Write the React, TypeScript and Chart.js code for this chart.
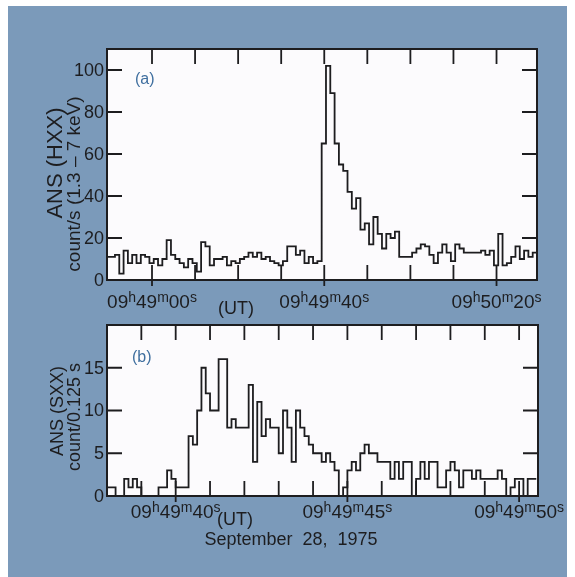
import React, { useEffect, useRef } from "react";
import { Chart, registerables } from "chart.js";

Chart.register(...registerables);

// ---------- DATA ----------
// Panel (a): ANS HXX, 1 s bins, time in seconds after 09h49m00s
const hxxFirstBinStart = -10.6;
const hxxBinWidth = 1;
const hxxCounts = [
  11, 11, 12, 3, 14, 8, 12, 8, 12, 11,
  8, 10, 7, 10, 19, 12, 10, 8, 6, 10,
  8, 4, 18, 16, 7, 10, 10, 11, 7, 9,
  8, 10, 11, 13, 11, 13, 10, 11, 9, 8,
  7, 9, 16, 16, 12, 14, 8, 11, 8, 9,
  65, 102, 89, 65, 55, 52, 42, 34, 39, 24,
  27, 17, 30, 22, 15, 22, 20, 23, 11, 11,
  11, 13, 15, 17, 16, 12, 8, 13, 17, 13,
  9, 17, 15, 13, 13, 13, 13, 14, 12, 14,
  7, 22, 7, 8, 11, 16, 10, 14, 11, 13,
];
const hxxXRange = [-10.45, 89.4];
const hxxYMax = 110;
const hxxXTicks = [0, 10, 20, 30, 40, 50, 60, 70, 80];
const hxxXTickLabels = ["09h49m00s", "", "", "", "09h49m40s", "", "", "", "09h50m20s"];
const hxxYTicks = [0, 20, 40, 60, 80, 100];

// Panel (b): ANS SXX, 0.125 s bins, time in seconds after 09h49m00s
const sxxFirstBinStart = 38.0;
const sxxBinWidth = 0.125;
const sxxCounts = [
  1, 1, 0, 0, 2, 1, 2, 1, 0, 0,
  0, 0, 1, 1, 3, 2, 1, 1, 1, 7,
  6, 10, 15, 12, 10, 10, 16, 16, 8, 9,
  8, 8, 8, 13, 4, 11, 7, 9, 8, 8,
  5, 10, 8, 4, 10, 8, 7, 6, 5, 5,
  4, 5, 4, 3, 0, 1, 3, 4, 3, 5,
  6, 5, 5, 4, 4, 4, 2, 4, 2, 4,
  4, 0, 2, 4, 2, 4, 4, 1, 1, 3,
  4, 3, 1, 3, 3, 2, 3, 2, 2, 2,
  2, 3, 2, 0, 1, 2, 2, 0, 2, 2,
];
const sxxXRange = [38.0, 50.55];
const sxxYMax = 20;
const sxxXTicks = [39, 40, 41, 42, 43, 44, 45, 46, 47, 48, 49, 50];
const sxxXTickLabels = ["", "09h49m40s", "", "", "", "", "09h49m45s", "", "", "", "", "09h49m50s"];
const sxxYTicks = [0, 5, 10, 15];

// ---------- STYLE ----------
const FONT = '"Liberation Sans", Arial, Helvetica, sans-serif';
const INK = "#1d1d1f";
const PANEL_BLUE = "#7b9aba";
const LABEL_BLUE = "#3f6f9f";
const PLOT_FILL = "#fcfbfd";

function drawSupText(ctx: CanvasRenderingContext2D, text: string, cx: number, baseline: number, size: number, supSize: number, rise: number) {
  const parts = text.split("").map((ch) => ({ ch, sup: /[a-z]/.test(ch), w: 0 }));
  let total = 0;
  for (const p of parts) {
    ctx.font = `${p.sup ? supSize : size}px ${FONT}`;
    p.w = ctx.measureText(p.ch).width;
    total += p.w;
  }
  let x = cx - total / 2;
  ctx.textAlign = "left";
  ctx.textBaseline = "alphabetic";
  for (const p of parts) {
    ctx.font = `${p.sup ? supSize : size}px ${FONT}`;
    ctx.fillText(p.ch, x, p.sup ? baseline - rise : baseline);
    x += p.w;
  }
}

type PanelCfg = {
  xTicks: number[];
  xTickLabels: string[];
  yTicks: number[];
  labelBaseline: number;
  tag: string;
  tagX: number;
  tagBaseline: number;
  title1: string;
  title2: string;
  title1Center: number;
  title2Center: number;
  title1Size: number;
  title2Size: number;
  title1X: number;
  title2X: number;
  utX: number;
  utBaseline: number;
  extra?: { text: string; x: number; baseline: number };
};

function makePanelPlugin(cfg: PanelCfg) {
  return {
    id: "panelDecor",
    beforeDraw(chart: any) {
      const { ctx, chartArea: a } = chart;
      ctx.save();
      ctx.fillStyle = PLOT_FILL;
      ctx.fillRect(a.left, a.top, a.right - a.left, a.bottom - a.top);
      ctx.restore();
    },
    afterDraw(chart: any) {
      const { ctx, chartArea: a } = chart;
      const xs = chart.scales.x;
      const ys = chart.scales.y;
      const TL = 15;
      ctx.save();
      ctx.strokeStyle = INK;
      ctx.fillStyle = INK;
      ctx.lineWidth = 2;
      ctx.strokeRect(a.left, a.top, a.right - a.left, a.bottom - a.top);
      ctx.lineWidth = 1.8;
      cfg.xTicks.forEach((v, i) => {
        const px = xs.getPixelForValue(v);
        const labeled = cfg.xTickLabels[i] !== "";
        ctx.beginPath();
        ctx.moveTo(px, a.top);
        ctx.lineTo(px, a.top + TL);
        ctx.moveTo(px, a.bottom + (labeled ? 6 : 0));
        ctx.lineTo(px, a.bottom - TL);
        ctx.stroke();
        if (labeled) {
          ctx.fillStyle = INK;
          drawSupText(ctx, cfg.xTickLabels[i], px, cfg.labelBaseline, 19, 14, 6);
        }
      });
      cfg.yTicks.forEach((v) => {
        const py = ys.getPixelForValue(v);
        ctx.beginPath();
        ctx.moveTo(a.left, py);
        ctx.lineTo(a.left + TL, py);
        ctx.moveTo(a.right, py);
        ctx.lineTo(a.right - TL, py);
        ctx.stroke();
        ctx.font = `18px ${FONT}`;
        ctx.textAlign = "right";
        ctx.textBaseline = "middle";
        ctx.fillText(String(v), a.left - 3, py + 1);
      });
      ctx.font = `18px ${FONT}`;
      ctx.textAlign = "center";
      ctx.textBaseline = "alphabetic";
      ctx.fillText("(UT)", cfg.utX, cfg.utBaseline);
      if (cfg.extra) ctx.fillText(cfg.extra.text, cfg.extra.x, cfg.extra.baseline);
      ctx.fillStyle = LABEL_BLUE;
      ctx.font = `16px ${FONT}`;
      ctx.textAlign = "left";
      ctx.fillText(cfg.tag, cfg.tagX, cfg.tagBaseline);
      ctx.fillStyle = INK;
      ctx.textAlign = "center";
      ctx.save();
      ctx.font = `${cfg.title1Size}px ${FONT}`;
      ctx.translate(cfg.title1X, cfg.title1Center);
      ctx.rotate(-Math.PI / 2);
      ctx.fillText(cfg.title1, 0, 0);
      ctx.restore();
      ctx.save();
      ctx.font = `${cfg.title2Size}px ${FONT}`;
      ctx.translate(cfg.title2X, cfg.title2Center);
      ctx.rotate(-Math.PI / 2);
      ctx.fillText(cfg.title2, 0, 0);
      ctx.restore();
      ctx.restore();
    },
  };
}

function histPoints(start: number, width: number, counts: number[]) {
  const pts = counts.map((v, i) => ({ x: start + i * width, y: v }));
  pts.push({ x: start + counts.length * width, y: counts[counts.length - 1] });
  return pts;
}

function makeConfig(points: any[], xRange: number[], yMax: number, padding: any, plugin: any): any {
  return {
    type: "line",
    data: {
      datasets: [
        {
          data: points,
          stepped: true,
          borderColor: INK,
          borderWidth: 1.8,
          pointRadius: 0,
          fill: false,
          tension: 0,
        },
      ],
    },
    options: {
      responsive: false,
      animation: false,
      devicePixelRatio: 1,
      layout: { padding },
      plugins: { legend: { display: false }, tooltip: { enabled: false } },
      scales: {
        x: { type: "linear", min: xRange[0], max: xRange[1], display: false },
        y: { type: "linear", min: 0, max: yMax, display: false },
      },
    },
    plugins: [plugin],
  };
}

export default function App() {
  const refA = useRef<HTMLCanvasElement>(null);
  const refB = useRef<HTMLCanvasElement>(null);

  useEffect(() => {
    const pluginA = makePanelPlugin({
      xTicks: hxxXTicks,
      xTickLabels: hxxXTickLabels,
      yTicks: hxxYTicks,
      labelBaseline: 308,
      tag: "(a)",
      tagX: 135,
      tagBaseline: 84,
      title1: "ANS (HXX)",
      title2: "count/s (1.3 – 7 keV)",
      title1Center: 163,
      title2Center: 184,
      title1Size: 22,
      title2Size: 19,
      title1X: 62,
      title2X: 80,
      utX: 236,
      utBaseline: 314,
    });
    const pluginB = makePanelPlugin({
      xTicks: sxxXTicks,
      xTickLabels: sxxXTickLabels,
      yTicks: sxxYTicks,
      labelBaseline: 518,
      tag: "(b)",
      tagX: 132,
      tagBaseline: 362,
      title1: "ANS (SXX)",
      title2: "count/0.125 s",
      title1Center: 411,
      title2Center: 417,
      title1Size: 18,
      title2Size: 18,
      title1X: 63,
      title2X: 80,
      utX: 235,
      utBaseline: 525,
      extra: { text: "September  28,  1975", x: 291, baseline: 545 },
    });
    const chartA = new Chart(
      refA.current as HTMLCanvasElement,
      makeConfig(histPoints(hxxFirstBinStart, hxxBinWidth, hxxCounts), hxxXRange, hxxYMax, { left: 107, top: 49, right: 38, bottom: 297 }, pluginA)
    );
    const chartB = new Chart(
      refB.current as HTMLCanvasElement,
      makeConfig(histPoints(sxxFirstBinStart, sxxBinWidth, sxxCounts), sxxXRange, sxxYMax, { left: 107, top: 325, right: 37, bottom: 81 }, pluginB)
    );
    return () => {
      chartA.destroy();
      chartB.destroy();
    };
  }, []);

  const canvasStyle: React.CSSProperties = { position: "absolute", left: 0, top: 0, width: 575, height: 577 };
  return (
    <div style={{ position: "fixed", left: 0, top: 0, width: 575, height: 577, background: "#ffffff", overflow: "hidden" }}>
      <div style={{ position: "absolute", left: 8, top: 6, width: 559, height: 571, background: PANEL_BLUE }} />
      <canvas ref={refA} width={575} height={577} style={canvasStyle} />
      <canvas ref={refB} width={575} height={577} style={canvasStyle} />
    </div>
  );
}
